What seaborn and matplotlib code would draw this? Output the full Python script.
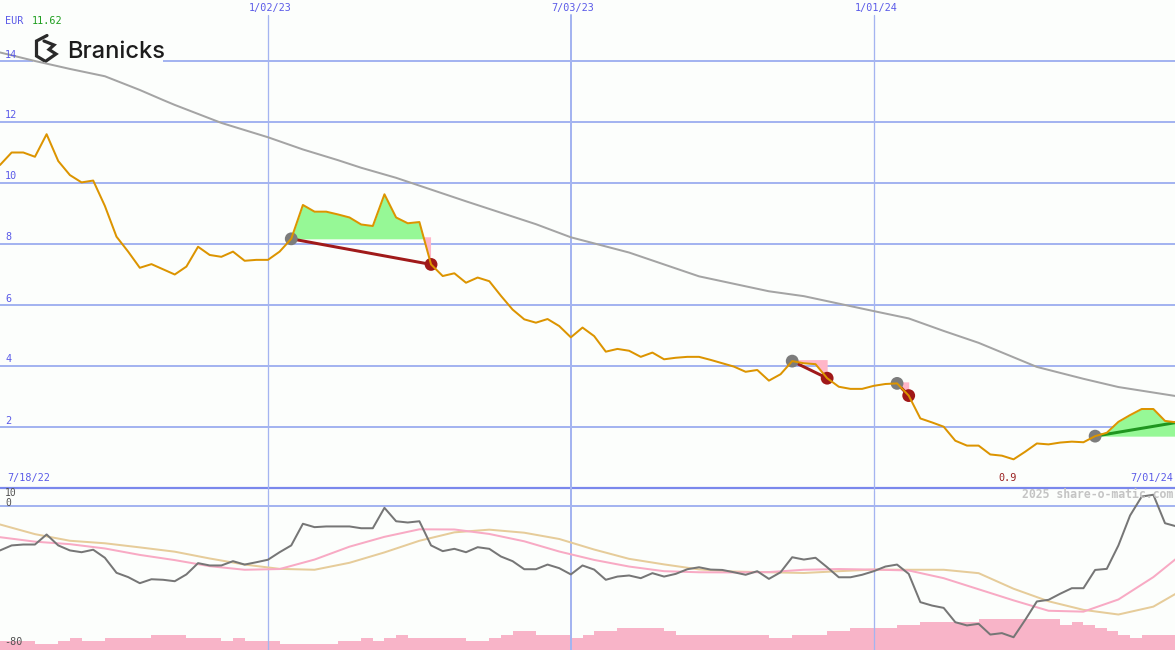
import numpy as np
import pandas as pd
import matplotlib
matplotlib.use("Agg")
import matplotlib.pyplot as plt
import seaborn as sns
from matplotlib.lines import Line2D
from matplotlib.patches import Rectangle

# ---------------- data ----------------
start_date = "2022-07-25"
n_weeks = 102

price = [10.59, 11.0, 11.0, 10.86, 11.6, 10.72, 10.26, 10.02, 10.08, 9.25,
         8.24, 7.75, 7.22, 7.34, 7.17, 7.0, 7.26, 7.91, 7.64, 7.58,
         7.75, 7.45, 7.48, 7.48, 7.75, 8.17, 9.28, 9.06, 9.06, 8.97,
         8.87, 8.64, 8.59, 9.63, 8.87, 8.68, 8.72, 7.33, 6.95, 7.04,
         6.73, 6.9, 6.78, 6.3, 5.85, 5.53, 5.42, 5.54, 5.31, 4.94,
         5.26, 4.98, 4.47, 4.56, 4.5, 4.3, 4.44, 4.22, 4.27, 4.3,
         4.3, 4.2, 4.09, 3.98, 3.81, 3.87, 3.52, 3.73, 4.16, 4.09,
         4.06, 3.6, 3.32, 3.25, 3.25, 3.35, 3.41, 3.43, 3.03, 2.28,
         2.15, 2.01, 1.55, 1.39, 1.39, 1.1, 1.06, 0.94, 1.19, 1.46,
         1.43, 1.49, 1.52, 1.5, 1.7, 1.81, 2.17, 2.39, 2.59, 2.59,
         2.2, 2.15]

ma_weeks = [0, 3, 6, 9, 12, 14, 15, 19, 23, 26, 29, 31, 34, 40, 46, 49, 54, 60, 66,
            69, 75, 78, 81, 84, 89, 93, 96, 101]
ma_values = [14.28, 14.0, 13.74, 13.5, 13.05, 12.72, 12.56, 11.97, 11.5, 11.1, 10.75,
             10.5, 10.17, 9.4, 8.65, 8.22, 7.72, 6.94, 6.45, 6.29, 5.8, 5.56, 5.15,
             4.76, 3.97, 3.58, 3.31, 3.01]

oscillator = [-25.1, -22.3, -21.8, -21.8, -16.2, -22.3, -25.1, -26.1, -24.7, -29.2,
              -37.6, -40.0, -43.4, -41.2, -41.5, -42.3, -38.5, -32.2, -33.5, -33.5,
              -31.1, -33.0, -31.7, -30.3, -26.1, -22.3, -10.2, -12.1, -11.7, -11.7,
              -11.7, -12.7, -12.7, -1.3, -8.8, -9.5, -8.8, -22.3, -25.5, -24.2,
              -26.1, -23.3, -24.2, -28.5, -31.1, -35.6, -35.6, -33.0, -35.0, -38.5,
              -33.5, -35.8, -41.5, -39.7, -39.1, -40.6, -37.8, -39.7, -38.2, -35.6,
              -34.5, -35.8, -36.0, -37.3, -38.7, -36.7, -41.0, -37.3, -28.9, -30.2,
              -29.2, -34.5, -40.1, -40.1, -38.7, -36.7, -34.1, -33.0, -38.2, -54.0,
              -55.9, -57.2, -65.2, -67.0, -66.1, -72.1, -71.3, -73.6, -63.9, -53.6,
              -52.7, -49.3, -46.2, -46.2, -36.0, -35.4, -22.3, -5.6, 5.0, 6.0,
              -9.9, -11.7]

signal_weeks = [0, 3, 6, 9, 12, 15, 18, 21, 24, 27, 30, 33, 36, 39, 42, 45, 48,
                51, 54, 57, 60, 63, 66, 69, 72, 75, 78, 81, 84, 87, 90, 93, 96,
                99, 101]
signal_fast = [-17.7, -20.2, -21.6, -24.0, -27.6, -30.5, -33.9, -35.9, -35.5, -30.2,
               -23.0, -17.5, -13.3, -13.4, -15.9, -20.0, -25.7, -30.4, -34.1, -36.7,
               -37.3, -37.4, -37.2, -35.9, -35.5, -35.8, -36.3, -40.6, -46.8, -53.0,
               -58.8, -59.3, -52.5, -40.0, -29.5]
signal_slow = [-10.6, -16.0, -19.7, -21.1, -23.4, -25.8, -29.6, -33.0, -35.4, -35.9,
               -32.0, -26.2, -19.7, -15.0, -13.5, -15.2, -18.7, -24.6, -29.8, -32.9,
               -35.7, -36.9, -37.3, -37.7, -36.7, -35.8, -35.9, -35.9, -37.8, -46.5,
               -53.5, -58.3, -60.9, -56.5, -49.0]

volume = [3, 3, 3, 2, 2, 3, 4, 3, 3, 4, 4, 4, 4, 5, 5, 5, 4, 4, 4, 3,
          4, 3, 3, 3, 2, 2, 2, 2, 2, 3, 3, 4, 3, 4, 5, 4, 4, 4, 4, 4,
          3, 3, 4, 5, 6, 6, 5, 5, 5, 4, 5, 6, 6, 7, 7, 7, 7, 6, 5, 5,
          5, 5, 5, 5, 5, 5, 4, 4, 5, 5, 5, 6, 6, 7, 7, 7, 7, 8, 8, 9,
          9, 9, 9, 9, 10, 10, 10, 10, 10, 10, 10, 8, 9, 8, 7, 6, 5, 4,
          5, 5, 5, 5]

buy_weeks = [25, 68, 77, 94]
sell_weeks = [37, 71, 78, 101]
sell_open = [False, False, False, True]

price_ticks = [2, 4, 6, 8, 10, 12, 14]
date_ticks = ["2023-01-02", "2023-07-03", "2024-01-01"]
date_labels = ["1/02/23", "7/03/23", "1/01/24"]
first_label = "7/18/22"
last_label = "7/01/24"
currency = "EUR"
last_price_label = "11.62"
low_label = "0.9"
osc_labels = ["10", "0", "-80"]
company = "Branicks"
credit = "2025 share-o-matic.com"

# ---------------- style ----------------
sns.set_style("white")
plt.rcParams["font.family"] = ["DejaVu Sans Mono", "DejaVu Sans"]

W, H = 1175, 650
BG = "#fcfefc"
GRID = "#a4b4f0"
BLUE_TXT = "#5a5ae8"
ORANGE = "#dc9400"
GRAYMA = "#a4a4a4"
GREEN_FILL = "#96f896"
PINK_FILL = "#ffb6c8"
DARKRED = "#a01a1a"
GREEN_LINE = "#1f961f"

weeks = pd.date_range(start_date, periods=n_weeks, freq="7D")
x_end = weeks[0] + pd.Timedelta(days=706)
price_a = np.array(price)

df = pd.DataFrame({"date": weeks, "price": price, "osc": oscillator, "vol": volume})
df_ma = pd.DataFrame({"date": weeks[ma_weeks], "ma": ma_values})
df_sig = pd.DataFrame({"date": weeks[signal_weeks], "fast": signal_fast, "slow": signal_slow})

fig = plt.figure(figsize=(W / 100, H / 100), dpi=100, facecolor=BG)

def px(v):
    return v * 72 / 100  # pixels -> points

main_h = 490
ax = fig.add_axes([0, (H - main_h) / H, 1, main_h / H])
ax_vol = fig.add_axes([0, 0, 1, (H - main_h) / H])
ax_low = fig.add_axes([0, 0, 1, (H - main_h) / H])
for a in (ax, ax_vol, ax_low):
    a.set_facecolor("none")
    a.set_xlim(weeks[0], x_end)

ppu = 30.5
ax.set_ylim(16 - main_h / ppu, 16)
low_ppu = 1.79
ax_low.set_ylim(-(H - 505.5) / low_ppu, (505.5 - main_h) / low_ppu)
ax_vol.set_ylim(0, (H - main_h) / 3.1)

# grid
for v in price_ticks:
    ax.axhline(v, color=GRID, lw=px(2), zorder=1)
ax.axhline(0, color="#7a88ec", lw=px(2.2), zorder=1)
vwidths = [1.3, 2, 1.3]
for d, lw in zip(date_ticks, vwidths):
    ax.axvline(pd.Timestamp(d), ymax=1 - 15 / main_h, color=GRID, lw=px(lw), zorder=1)
    ax_low.axvline(pd.Timestamp(d), color=GRID, lw=px(lw), zorder=1)
ax_low.axhline(0, color=GRID, lw=px(2), zorder=1)

# logo backdrop
ax.add_patch(Rectangle((33 / W, 1 - 66 / main_h), 130 / W, 33 / main_h,
                       transform=ax.transAxes, facecolor=BG, edgecolor="none", zorder=1.5))

# long moving average
sns.lineplot(data=df_ma, x="date", y="ma", ax=ax, color=GRAYMA, lw=px(2), zorder=2)

# trade fills
for b, s in zip(buy_weeks, sell_weeks):
    seg = slice(b, s + 1)
    lvl = price_a[b]
    xs = weeks[seg]
    ys = price_a[seg]
    ax.fill_between(xs, ys, lvl, where=ys >= lvl, interpolate=True,
                    color=GREEN_FILL, lw=0, zorder=2.2)
    ax.fill_between(xs, ys, lvl + 0.05, where=ys <= lvl, interpolate=True,
                    color=PINK_FILL, lw=0, zorder=2.2)

# trade connecting lines
for b, s in zip(buy_weeks, sell_weeks):
    c = GREEN_LINE if price_a[s] >= price_a[b] else DARKRED
    ax.plot([weeks[b], weeks[s]], [price_a[b], price_a[s]], color=c, lw=px(3),
            zorder=2.6, solid_capstyle="butt")

# markers
sns.scatterplot(x=weeks[buy_weeks], y=price_a[buy_weeks], ax=ax, color="#7c7c7c",
                s=85, edgecolor="none", zorder=2.8)
closed = [s for s, o in zip(sell_weeks, sell_open) if not o]
sns.scatterplot(x=weeks[closed], y=price_a[closed], ax=ax, color="#a01818",
                s=85, edgecolor="none", zorder=2.8)

# price line
sns.lineplot(data=df, x="date", y="price", ax=ax, color=ORANGE, lw=px(2), zorder=3)

# lower panel
ax_vol.bar(weeks, volume, width=7, align="edge", color="#f8b4c8", lw=0)
sns.lineplot(data=df_sig, x="date", y="slow", ax=ax_low, color="#e6cc9a", lw=px(2), zorder=2)
sns.lineplot(data=df_sig, x="date", y="fast", ax=ax_low, color="#f8aac4", lw=px(2), zorder=2.1)
sns.lineplot(data=df, x="date", y="osc", ax=ax_low, color="#767676", lw=px(2), zorder=3)

for a in (ax, ax_vol, ax_low):
    a.set_axis_off()

# ---------------- text ----------------
FS = 7.3

def ftext(x, y, s, **kw):
    fig.text(x / W, 1 - y / H, s, fontsize=kw.pop("fontsize", FS), **kw)

for v in price_ticks:
    ftext(5, (16 - v) * ppu - 1.5, str(v), color=BLUE_TXT, ha="left", va="bottom")
for d, lab in zip(date_ticks, date_labels):
    xp = (pd.Timestamp(d) - weeks[0]).days * (W / 706)
    ftext(xp + 2, 8, lab, color=BLUE_TXT, ha="center", va="center")
ftext(5, 21, currency, color=BLUE_TXT, ha="left", va="center")
ftext(32, 21, last_price_label, color="#1e9e1e", ha="left", va="center")
ftext(7, 478, first_label, color=BLUE_TXT, ha="left", va="center")
ftext(1173, 478, last_label, color=BLUE_TXT, ha="right", va="center")
ftext(1008, 478, low_label, color="#9a2020", ha="center", va="center")
ftext(1173, 495, credit, color="#c4c4c4", ha="right", va="center",
      fontweight="bold", fontsize=8.3)
ftext(5, 493, osc_labels[0], color="#505050", ha="left", va="center", fontsize=7)
ftext(5, 502.5, osc_labels[1], color="#505050", ha="left", va="center", fontsize=7)
ftext(4, 642, osc_labels[2], color="#505050", ha="left", va="center")

# logo
ftext(67, 58, company, color="#1c1c1c", ha="left", va="baseline",
      fontsize=17, family=["Inter", "DejaVu Sans"], fontweight="medium")
icon_paths = [
    [(47, 35.5), (36.5, 41), (36.5, 56), (44, 60.5)],
    [(44, 41), (54, 45), (49, 49.5), (56, 54), (46, 61)],
]
for path in icon_paths:
    xs = [p[0] / W for p in path]
    ys = [1 - p[1] / H for p in path]
    fig.add_artist(Line2D(xs, ys, transform=fig.transFigure, color="#2a2a2a",
                          lw=px(3.2), solid_joinstyle="miter"))

fig.savefig("out.png", dpi=100, facecolor=BG)
